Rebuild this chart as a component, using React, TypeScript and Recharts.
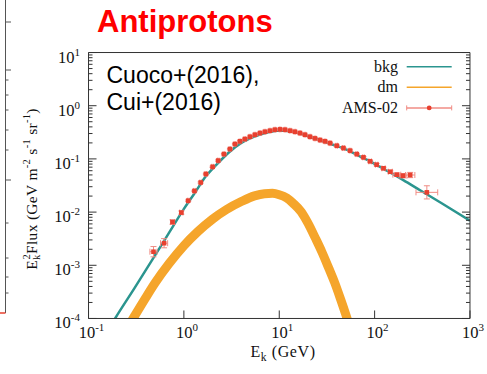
import {
  ComposedChart, Line, Scatter, XAxis, YAxis, ErrorBar, Legend,
} from "recharts";

const TEAL = "#2b958f";
const ORANGE = "#f5a52b";
const RED = "#e8402f";
const ERR = "#f08c84";
const FRAME = "#333";
const SERIF = "Liberation Serif, Times New Roman, serif";
const SANS = "Liberation Sans, Arial, sans-serif";

// E_k (GeV) vs E^2 * flux (GeV m^-2 s^-1 sr^-1)
const BKG_E = [0.15, 0.19, 0.3, 0.5, 0.7, 1, 1.3, 1.7, 2.2, 3, 4, 5.5, 7.5, 10, 13, 18, 25, 35, 50, 70, 100, 150, 200, 300, 500, 1000];
const BKG_F = [4.9e-5, 1e-4, 3.6e-4, 1.55e-3, 4.1e-3, 0.0115, 0.0229, 0.047, 0.078, 0.135, 0.2, 0.263, 0.313, 0.343, 0.331, 0.285, 0.234, 0.19, 0.151, 0.112, 0.081, 0.054, 0.04, 0.0257, 0.0148, 0.0069];

// dark matter band (drawn as a thick line along its centre)
const DM_E = [0.25, 0.3, 0.4, 0.5, 0.7, 1, 1.4, 2, 2.8, 4, 5.5, 7, 8.5, 10, 12, 14, 17, 20, 24, 28, 33, 38, 44, 50, 57];
const DM_F = [6.2e-5, 1.07e-4, 2.5e-4, 4.7e-4, 1.08e-3, 2.34e-3, 4.3e-3, 7.4e-3, 0.0112, 0.0158, 0.0202, 0.0222, 0.0225, 0.0212, 0.0184, 0.0146, 0.0101, 6.2e-3, 3.2e-3, 1.78e-3, 8.9e-4, 4.8e-4, 2.3e-4, 1.17e-4, 5.6e-5];

// AMS-02 points, relative errors in x and y
const AMS_E = [0.48, 0.62, 0.76, 0.94, 1.11, 1.29, 1.5, 1.7, 2.0, 2.29, 2.63, 3.04, 3.43, 3.87, 4.36, 4.93, 5.56, 6.28, 7.08, 8.0, 9.0, 10.2, 11.5, 13.0, 14.6, 16.5, 18.6, 21.0, 23.7, 26.8, 30.2, 34.1, 40.1, 47.1, 55.3, 65.0, 76.4, 89.7, 105, 124, 146, 171, 198, 236, 353];
const AMS_F = [0.0018, 0.0026, 0.0065, 0.0098, 0.0164, 0.025, 0.036, 0.052, 0.071, 0.093, 0.123, 0.153, 0.19, 0.214, 0.236, 0.261, 0.285, 0.306, 0.324, 0.339, 0.354, 0.359, 0.354, 0.339, 0.324, 0.306, 0.285, 0.261, 0.243, 0.226, 0.214, 0.198, 0.177, 0.16, 0.143, 0.123, 0.107, 0.09, 0.078, 0.0665, 0.0574, 0.0505, 0.0483, 0.0498, 0.0235];
const AMS_XERR = [0.09, 0.09, 0.05, 0.04, 0.02, 0.02, 0.02, 0.02, 0.02, 0.02, 0.02, 0.02, 0.02, 0.02, 0.02, 0.02, 0.02, 0.02, 0.02, 0.02, 0.02, 0.02, 0.02, 0.02, 0.02, 0.02, 0.02, 0.02, 0.02, 0.02, 0.02, 0.02, 0.02, 0.02, 0.02, 0.02, 0.02, 0.03, 0.03, 0.04, 0.05, 0.1, 0.1, 0.12, 0.3];
const AMS_YERR = [0.25, 0.22, 0.1, 0.07, 0.03, 0.03, 0.03, 0.03, 0.03, 0.03, 0.03, 0.03, 0.03, 0.03, 0.03, 0.03, 0.03, 0.03, 0.03, 0.03, 0.03, 0.03, 0.03, 0.03, 0.03, 0.03, 0.03, 0.03, 0.03, 0.03, 0.03, 0.03, 0.03, 0.03, 0.03, 0.03, 0.04, 0.04, 0.05, 0.05, 0.06, 0.08, 0.1, 0.12, 0.33];

const X_DOMAIN = [0.1, 1000];
const Y_DOMAIN = [1e-4, 10];
const X_MAJOR = [0.1, 1, 10, 100, 1000];
const Y_MAJOR = [1e-4, 1e-3, 1e-2, 1e-1, 1, 10];

const LEGEND = [
  { name: "bkg", color: TEAL, points: false },
  { name: "dm", color: ORANGE, points: false },
  { name: "AMS-02", color: RED, points: true },
];

const minorTicks = (from: number, to: number) => {
  const out: number[] = [];
  for (let d = from; d < to; d++) for (let m = 2; m <= 9; m++) out.push(m * Math.pow(10, d));
  return out;
};
const X_MINOR = minorTicks(-1, 3);
const Y_MINOR = minorTicks(-4, 1);

const bkgData = BKG_E.map((e, i) => ({ e, bkg: BKG_F[i] }));
const dmData = DM_E.map((e, i) => ({ e, dm: DM_F[i] }));
const amsData = AMS_E.map((e, i) => {
  const f = AMS_F[i];
  const rx = AMS_XERR[i];
  const ry = AMS_YERR[i];
  return { e, f, xe: [e - e / (1 + rx), e * rx], ye: [f - f / (1 + ry), f * ry] };
});

const expOf = (v: number) => Math.round(Math.log10(v));

const XTick = (p: any) => (
  <text x={p.x + 3} y={p.y} textAnchor="middle" fontFamily={SERIF} fontSize={16.5} fill="#111">
    10<tspan dy={-7} fontSize={11}>{expOf(p.payload.value)}</tspan>
  </text>
);

const YTick = (p: any) => (
  <text x={p.x} y={p.y + 10} textAnchor="end" fontFamily={SERIF} fontSize={16.5} fill="#111">
    10<tspan dy={-7} fontSize={11}>{expOf(p.payload.value)}</tspan>
  </text>
);

const noLabel = () => <g />;

const renderLegend = () => (
  <svg width={170} height={66} style={{ overflow: "visible" }}>
    {LEGEND.map((it, i) => {
      const y = 11.7 + i * 20.6;
      return (
        <g key={it.name}>
          <text x={98} y={y + 5} textAnchor="end" fontFamily={SERIF} fontSize={16} fill="#111">
            {it.name}
          </text>
          <line x1={106.7} x2={151.7} y1={y} y2={y} stroke={it.points ? ERR : it.color} strokeWidth={1.5} />
          {it.points && (
            <g>
              <line x1={106.7} x2={106.7} y1={y - 2.5} y2={y + 2.5} stroke={ERR} />
              <line x1={151.7} x2={151.7} y1={y - 2.5} y2={y + 2.5} stroke={ERR} />
              <circle cx={129.2} cy={y} r={2.4} fill={RED} />
            </g>
          )}
        </g>
      );
    })}
  </svg>
);

const frameLine = { stroke: FRAME, strokeWidth: 1 };
const STRIP_TICKS = [22, 70, 80, 95, 110, 130, 150, 180, 223, 258, 277, 293];

export default function App() {
  return (
    <div style={{ position: "fixed", left: 0, top: 0, width: 487, height: 374, background: "#fff" }}>
      <ComposedChart
        width={487}
        height={374}
        margin={{ top: 52.5, right: 17, bottom: 55.5, left: 88.5 }}
      >
        <XAxis xAxisId="b" dataKey="e" type="number" scale="log" domain={X_DOMAIN} allowDataOverflow
          ticks={X_MAJOR} interval={0} height={0.01} tickSize={-8} tickMargin={27.5}
          axisLine={frameLine} tickLine={frameLine} tick={XTick} />
        <XAxis xAxisId="bm" type="number" scale="log" domain={X_DOMAIN} allowDataOverflow
          ticks={X_MINOR} interval={0} height={0.01} tickSize={-4}
          axisLine={false} tickLine={frameLine} tick={noLabel} />
        <XAxis xAxisId="t" orientation="top" type="number" scale="log" domain={X_DOMAIN} allowDataOverflow
          ticks={X_MAJOR} interval={0} height={0.01} tickSize={-8}
          axisLine={frameLine} tickLine={frameLine} tick={noLabel} />
        <XAxis xAxisId="tm" orientation="top" type="number" scale="log" domain={X_DOMAIN} allowDataOverflow
          ticks={X_MINOR} interval={0} height={0.01} tickSize={-4}
          axisLine={false} tickLine={frameLine} tick={noLabel} />
        <YAxis yAxisId="l" type="number" scale="log" domain={Y_DOMAIN} allowDataOverflow
          ticks={Y_MAJOR} interval={0} width={0.01} tickSize={-8} tickMargin={16.5}
          axisLine={frameLine} tickLine={frameLine} tick={YTick} />
        <YAxis yAxisId="lm" type="number" scale="log" domain={Y_DOMAIN} allowDataOverflow
          ticks={Y_MINOR} interval={0} width={0.01} tickSize={-4}
          axisLine={false} tickLine={frameLine} tick={noLabel} />
        <YAxis yAxisId="r" orientation="right" type="number" scale="log" domain={Y_DOMAIN} allowDataOverflow
          ticks={Y_MAJOR} interval={0} width={0.01} tickSize={-8}
          axisLine={frameLine} tickLine={frameLine} tick={noLabel} />
        <YAxis yAxisId="rm" orientation="right" type="number" scale="log" domain={Y_DOMAIN} allowDataOverflow
          ticks={Y_MINOR} interval={0} width={0.01} tickSize={-4}
          axisLine={false} tickLine={frameLine} tick={noLabel} />

        <Line xAxisId="b" yAxisId="l" data={dmData} dataKey="dm" type="monotone"
          stroke={ORANGE} strokeWidth={9} dot={false} activeDot={false} isAnimationActive={false} />
        <Line xAxisId="b" yAxisId="l" data={bkgData} dataKey="bkg" type="monotone"
          stroke={TEAL} strokeWidth={2.5} dot={false} activeDot={false} isAnimationActive={false} />
        <Scatter xAxisId="b" yAxisId="l" data={amsData} dataKey="f" isAnimationActive={false}
          shape={(p: any) => <rect x={p.cx - 2.3} y={p.cy - 2.3} width={4.6} height={4.6} fill={RED} />}>
          <ErrorBar dataKey="xe" direction="x" width={3} stroke={ERR} strokeWidth={1} isAnimationActive={false} />
          <ErrorBar dataKey="ye" direction="y" width={3} stroke={ERR} strokeWidth={1} isAnimationActive={false} />
        </Scatter>

        <Legend content={renderLegend} layout="vertical" align="center" verticalAlign="middle"
          wrapperStyle={{ position: "absolute", left: 300, top: 55, width: 170, height: 66 }} />
      </ComposedChart>

      <svg width={487} height={374} style={{ position: "absolute", left: 0, top: 0, pointerEvents: "none" }}>
        {/* edge of the neighbouring panel */}
        <line x1={5.5} x2={5.5} y1={0} y2={313} stroke="#555" />
        {STRIP_TICKS.map((y) => (
          <line key={y} x1={5.5} x2={y === 22 || y === 70 || y === 180 ? 11 : 8.5} y1={y} y2={y} stroke="#555" />
        ))}
        <line x1={0} x2={5.5} y1={313} y2={313} stroke={RED} strokeWidth={1.5} />

        <text x={97} y={32} fontFamily={SANS} fontWeight="bold" fontSize={31} fill="#ff0000">Antiprotons</text>

        <text x={106.5} y={83} fontFamily={SANS} fontSize={23} fill="#000">Cuoco+(2016),</text>
        <text x={106.5} y={110} fontFamily={SANS} fontSize={23} fill="#000">Cui+(2016)</text>

        <text x={283} y={357} textAnchor="middle" fontFamily={SERIF} fontSize={16} letterSpacing={0.6} fill="#111">
          E<tspan fontSize={11.5} dy={4}>k</tspan><tspan dy={-4}> (GeV)</tspan>
        </text>

        <text transform="translate(37,189) rotate(-90)" textAnchor="middle" fontFamily={SERIF} fontSize={15.5} letterSpacing={0.3} fill="#111">
          E<tspan fontSize={10.5} dy={3}>k</tspan>
          <tspan fontSize={10.5} dx={-5} dy={-10}>2</tspan>
          <tspan dy={7}>Flux (GeV m</tspan>
          <tspan fontSize={10.5} dy={-7}>-2</tspan>
          <tspan dy={7}> s</tspan>
          <tspan fontSize={10.5} dy={-7}>-1</tspan>
          <tspan dy={7}> sr</tspan>
          <tspan fontSize={10.5} dy={-7}>-1</tspan>
          <tspan dy={7}>)</tspan>
        </text>
      </svg>
    </div>
  );
}
